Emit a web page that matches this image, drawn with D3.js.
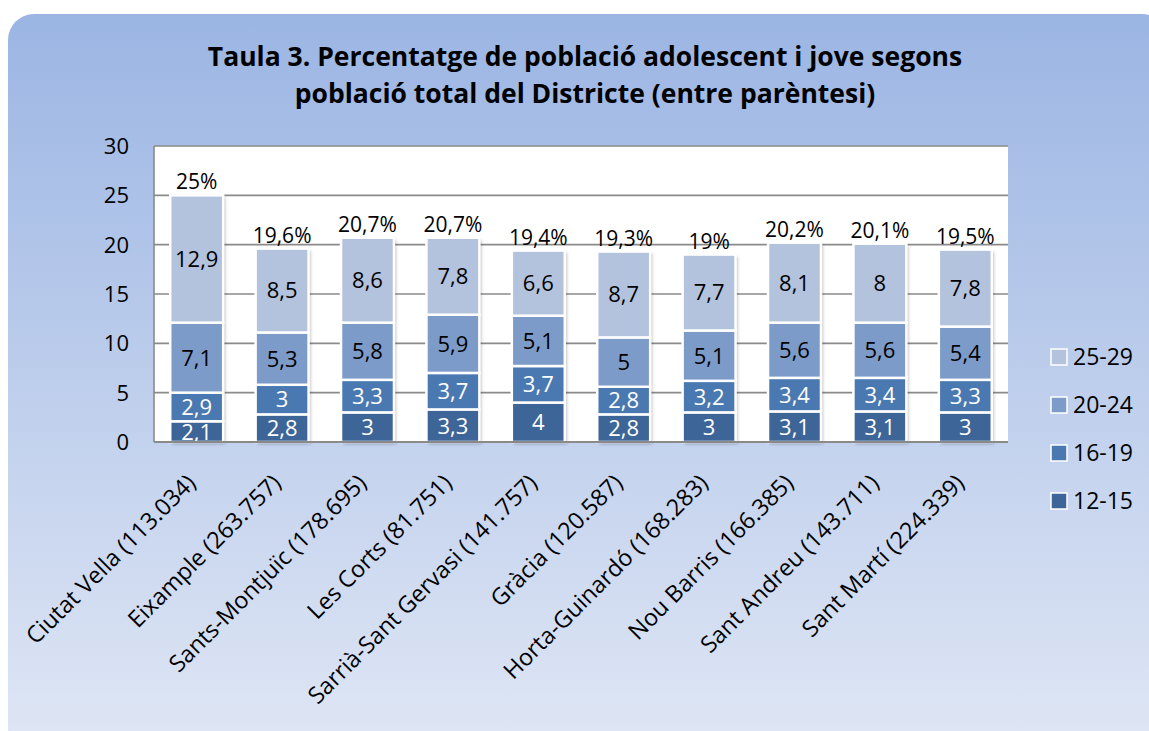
<!DOCTYPE html>
<html>
<head>
<meta charset="utf-8">
<script src="https://d3js.org/d3.v7.min.js"></script>
<style>
    body { margin: 0; background: #ffffff; }
    text { font-family: "Open Sans", sans-serif; fill: #000000; }
    .title { font-size: 26.5px; font-weight: bold; }
    .tick-label { font-size: 22px; }
    .seg-label { font-size: 22px; }
    .total-label { font-size: 21px; }
    .x-label { font-size: 23.3px; }
    .legend-label { font-size: 23px; }
</style>
</head>
<body>
<div id="container"></div>
<script>
    // chart data
    const districts = ["Ciutat Vella (113.034)", "Eixample (263.757)", "Sants-Montjuïc (178.695)",
        "Les Corts (81.751)", "Sarrià-Sant Gervasi (141.757)", "Gràcia (120.587)",
        "Horta-Guinardó (168.283)", "Nou Barris (166.385)", "Sant Andreu (143.711)", "Sant Martí (224.339)"];
    const ageGroups = ["12-15", "16-19", "20-24", "25-29"];
    const age12_15 = [2.1, 2.8, 3, 3.3, 4, 2.8, 3, 3.1, 3.1, 3];
    const age16_19 = [2.9, 3, 3.3, 3.7, 3.7, 2.8, 3.2, 3.4, 3.4, 3.3];
    const age20_24 = [7.1, 5.3, 5.8, 5.9, 5.1, 5, 5.1, 5.6, 5.6, 5.4];
    const age25_29 = [12.9, 8.5, 8.6, 7.8, 6.6, 8.7, 7.7, 8.1, 8, 7.8];
    const totals = ["25%", "19,6%", "20,7%", "20,7%", "19,4%", "19,3%", "19%", "20,2%", "20,1%", "19,5%"];
    const yTicks = [0, 5, 10, 15, 20, 25, 30];
    const colors = ["#3d6597", "#4a79b2", "#7c9bc9", "#b3c3de"];

    const W = 1149, H = 731;
    const plot = {left: 154, right: 1008, top: 146, bottom: 442};

    const svg = d3.select("#container")
        .append("svg")
        .attr("width", W)
        .attr("height", H);

    const defs = svg.append("defs");
    const grad = defs.append("linearGradient")
        .attr("id", "bg").attr("x1", 0).attr("y1", 0).attr("x2", 0).attr("y2", 1);
    grad.append("stop").attr("offset", "0%").attr("stop-color", "#9bb5e3");
    grad.append("stop").attr("offset", "100%").attr("stop-color", "#e0e7f5");

    const shadow = defs.append("filter").attr("id", "shadow")
        .attr("x", "-20%").attr("y", "-10%").attr("width", "150%").attr("height", "130%");
    shadow.append("feDropShadow")
        .attr("dx", 2).attr("dy", 2).attr("stdDeviation", 1.5)
        .attr("flood-color", "#000").attr("flood-opacity", 0.25);

    defs.append("clipPath").attr("id", "plotClip")
        .append("rect")
        .attr("x", plot.left).attr("y", plot.top - 60)
        .attr("width", plot.right - plot.left).attr("height", plot.bottom - plot.top + 60);

    // outer panel
    svg.append("rect")
        .attr("x", 8).attr("y", 14)
        .attr("width", 1160).attr("height", 740)
        .attr("rx", 26).attr("ry", 26)
        .attr("fill", "url(#bg)");

    // title
    const title = svg.append("text")
        .attr("class", "title")
        .attr("text-anchor", "middle");
    title.append("tspan").attr("x", 585).attr("y", 66)
        .text("Taula 3. Percentatge de població adolescent i jove segons");
    title.append("tspan").attr("x", 585).attr("y", 103)
        .text("població total del Districte (entre parèntesi)");

    // scales
    const x = d3.scaleBand()
        .domain(districts)
        .range([plot.left, plot.right])
        .paddingInner(0.38)
        .paddingOuter(0.19);

    const y = d3.scaleLinear()
        .domain([0, 30])
        .range([plot.bottom, plot.top]);

    // plot background
    svg.append("rect")
        .attr("x", plot.left).attr("y", plot.top)
        .attr("width", plot.right - plot.left).attr("height", plot.bottom - plot.top)
        .attr("fill", "#ffffff");

    // gridlines
    svg.append("g")
        .selectAll("line")
        .data(yTicks)
        .enter()
        .append("line")
        .attr("x1", plot.left).attr("x2", plot.right)
        .attr("y1", d => y(d)).attr("y2", d => y(d))
        .attr("stroke", "#8a8a8a")
        .attr("stroke-width", 1.6);

    svg.append("line")
        .attr("x1", plot.left).attr("x2", plot.left)
        .attr("y1", plot.top).attr("y2", plot.bottom)
        .attr("stroke", "#8a8a8a").attr("stroke-width", 1.6);

    // y labels
    svg.append("g")
        .selectAll("text")
        .data(yTicks)
        .enter()
        .append("text")
        .attr("class", "tick-label")
        .attr("x", 129)
        .attr("y", d => y(d))
        .attr("dy", "0.36em")
        .attr("text-anchor", "end")
        .text(d => d);

    // stack the series
    const rows = districts.map((d, i) => ({
        district: d,
        "12-15": age12_15[i],
        "16-19": age16_19[i],
        "20-24": age20_24[i],
        "25-29": age25_29[i]
    }));
    const stacked = d3.stack().keys(ageGroups)(rows);

    const fmt = v => String(v).replace(".", ",");

    // bars (drop shadow behind whole column)
    const barsG = svg.append("g");
    barsG.selectAll("rect.col")
        .data(rows)
        .enter()
        .append("rect")
        .attr("class", "col")
        .attr("x", d => x(d.district))
        .attr("width", x.bandwidth())
        .attr("y", (d, i) => y(stacked[3][i][1]))
        .attr("height", (d, i) => plot.bottom - y(stacked[3][i][1]))
        .attr("fill", "#ffffff")
        .attr("filter", "url(#shadow)");

    stacked.forEach((layer, k) => {
        barsG.append("g")
            .selectAll("rect")
            .data(layer)
            .enter()
            .append("rect")
            .attr("x", d => x(d.data.district))
            .attr("width", x.bandwidth())
            .attr("y", d => y(d[1]))
            .attr("height", d => y(d[0]) - y(d[1]))
            .attr("fill", colors[k])
            .attr("stroke", "#ffffff")
            .attr("stroke-width", 2.5);
    });

    // segment labels
    const labG = svg.append("g").attr("clip-path", "url(#plotClip)");
    stacked.forEach((layer, k) => {
        labG.append("g")
            .selectAll("text")
            .data(layer)
            .enter()
            .append("text")
            .attr("class", "seg-label")
            .attr("x", d => x(d.data.district) + x.bandwidth() / 2)
            .attr("y", d => (y(d[0]) + y(d[1])) / 2)
            .attr("dy", "0.36em")
            .attr("text-anchor", "middle")
            .style("fill", k < 2 ? "#ffffff" : "#000000")
            .text(d => fmt(d.data[ageGroups[k]]));
    });

    // bottom axis line
    svg.append("line")
        .attr("x1", plot.left).attr("x2", plot.right)
        .attr("y1", plot.bottom).attr("y2", plot.bottom)
        .attr("stroke", "#8a8a8a").attr("stroke-width", 2);

    // totals
    svg.append("g")
        .selectAll("text")
        .data(rows)
        .enter()
        .append("text")
        .attr("class", "total-label")
        .attr("x", d => x(d.district) + x.bandwidth() / 2)
        .attr("y", (d, i) => y(stacked[3][i][1]) - 6)
        .attr("text-anchor", "middle")
        .text((d, i) => totals[i]);

    // x labels
    svg.append("g")
        .selectAll("text")
        .data(districts)
        .enter()
        .append("text")
        .attr("class", "x-label")
        .attr("text-anchor", "end")
        .attr("dy", "0.75em")
        .attr("transform", d => "translate(" + (x(d) + x.bandwidth() / 2 - 12) + ",472) rotate(-45)")
        .text(d => d);

    // legend
    const legend = svg.append("g")
        .selectAll("g")
        .data(ageGroups.slice().reverse())
        .enter()
        .append("g")
        .attr("transform", (d, i) => "translate(1051," + (357 + i * 48) + ")");
    legend.append("rect")
        .attr("x", 0).attr("y", -8)
        .attr("width", 16).attr("height", 16)
        .attr("fill", d => colors[ageGroups.indexOf(d)])
        .attr("stroke", "#ffffff").attr("stroke-width", 1.5);
    legend.append("text")
        .attr("class", "legend-label")
        .attr("x", 22)
        .attr("dy", "0.36em")
        .text(d => d);
</script>
</body>
</html>
